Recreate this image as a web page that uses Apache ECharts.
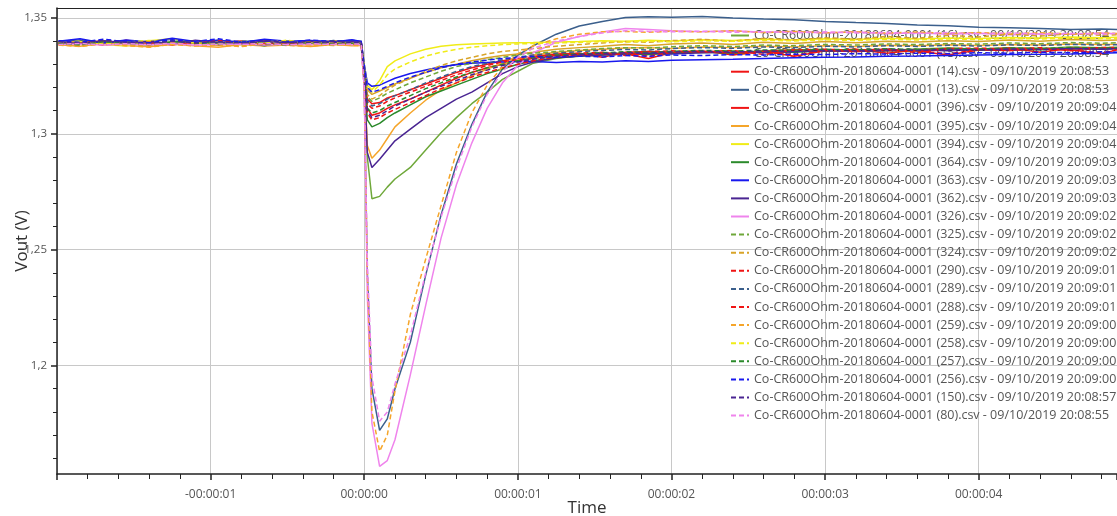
<!DOCTYPE html>
<html><head><meta charset="utf-8">
<script src="https://cdn.jsdelivr.net/npm/echarts@6/dist/echarts.min.js"></script>
<style>html,body{margin:0;padding:0;background:#fff}#c{width:1117px;height:516px}</style>
</head><body><div id="c"></div>
<script>
// time (s) relative to trigger
const times = [-1.99,-1.85,-1.7,-1.55,-1.4,-1.25,-1.1,-0.95,-0.8,-0.65,-0.5,-0.35,-0.2,-0.08,-0.02,
  0.0,0.02,0.05,0.1,0.15,0.2,0.3,0.4,0.5,0.6,0.7,0.8,0.9,1.0,1.1,
  1.25,1.4,1.55,1.7,1.85,2.0,2.2,2.4,2.6,2.8,3.0,3.2,3.4,3.6,3.8,4.0,4.2,4.4,4.6,4.8,4.91];

const v16 = [1.3395,1.3388,1.3401,1.3392,1.3385,1.3398,1.3390,1.3404,1.3387,1.3396,1.3391,1.3399,1.3386,1.3394,1.3390,
  1.330,1.290,1.272,1.273,1.277,1.2805,1.2855,1.293,1.3005,1.307,1.313,1.318,1.3235,1.327,1.3305,
  1.3325,1.3338,1.3345,1.3350,1.3348,1.3352,1.3355,1.3350,1.3358,1.3362,1.3357,1.3364,1.3360,1.3366,1.3370,1.3365,1.3372,1.3368,1.3375,1.3371,1.3374];
const v15 = [1.3388,1.3396,1.3383,1.3391,1.3399,1.3386,1.3393,1.3381,1.3395,1.3389,1.3397,1.3384,1.3392,1.3387,1.3385,
  1.328,1.319,1.317,1.3185,1.320,1.3215,1.324,1.3265,1.3285,1.330,1.3315,1.3328,1.3338,1.3345,1.3352,
  1.3365,1.3372,1.3378,1.3385,1.3380,1.3388,1.3392,1.3386,1.3395,1.3390,1.3398,1.3393,1.3400,1.3396,1.3402,1.3398,1.3405,1.3400,1.3407,1.3403,1.3405];
const v14 = [1.3392,1.3399,1.3387,1.3404,1.3390,1.3385,1.3397,1.3392,1.3401,1.3388,1.3395,1.3390,1.3402,1.3389,1.3393,
  1.327,1.315,1.313,1.3135,1.3155,1.3165,1.319,1.3215,1.324,1.3265,1.3285,1.330,1.3315,1.3325,1.3335,
  1.3345,1.3348,1.3330,1.3352,1.3355,1.3350,1.3358,1.3340,1.3356,1.3362,1.3358,1.3365,1.3348,1.3362,1.3368,1.3364,1.3370,1.3352,1.3369,1.3372,1.3370];
const v13 = [1.3398,1.3405,1.3393,1.3400,1.3396,1.3408,1.3395,1.3402,1.3397,1.3404,1.3394,1.3401,1.3398,1.3403,1.3400,
  1.320,1.240,1.190,1.172,1.177,1.190,1.210,1.239,1.265,1.287,1.304,1.318,1.328,1.334,1.338,
  1.343,1.3465,1.3485,1.3502,1.3505,1.3503,1.3506,1.350,1.3495,1.3492,1.3485,1.348,1.3476,1.347,1.3466,1.346,1.3458,1.3455,1.345,1.3452,1.345];
const v396 = [1.3386,1.3394,1.3401,1.3389,1.3396,1.3383,1.3398,1.3391,1.3387,1.3399,1.3392,1.3386,1.3395,1.3390,1.3388,
  1.326,1.311,1.308,1.309,1.311,1.3125,1.315,1.318,1.321,1.324,1.3265,1.3285,1.330,1.3315,1.3325,
  1.3338,1.3342,1.3348,1.3345,1.3325,1.3350,1.3354,1.3348,1.3356,1.3335,1.3358,1.3355,1.3360,1.3357,1.3340,1.3362,1.3360,1.3366,1.3363,1.3345,1.3365];
const v395 = [1.3384,1.3378,1.3390,1.3381,1.3376,1.3387,1.3380,1.3374,1.3386,1.3379,1.3383,1.3377,1.3385,1.3380,1.3382,
  1.325,1.295,1.2895,1.293,1.298,1.303,1.309,1.3145,1.319,1.322,1.325,1.328,1.3305,1.332,1.334,
  1.3352,1.3360,1.3365,1.3370,1.3372,1.3368,1.3375,1.3372,1.3378,1.3375,1.3380,1.3377,1.3382,1.3380,1.3384,1.3381,1.3386,1.3383,1.3388,1.3385,1.3387];
const v394 = [1.3390,1.3398,1.3385,1.3379,1.3402,1.3410,1.3393,1.3400,1.3388,1.3396,1.3402,1.3391,1.3399,1.3394,1.3392,
  1.330,1.321,1.319,1.323,1.329,1.3315,1.3345,1.3365,1.3378,1.3384,1.3388,1.3390,1.3392,1.3393,1.3394,
  1.3396,1.3398,1.3402,1.3399,1.3404,1.3401,1.3406,1.3403,1.3408,1.3405,1.3410,1.3407,1.3412,1.3409,1.3414,1.3411,1.3416,1.3413,1.3418,1.3415,1.3417];
const v364 = [1.3393,1.3386,1.3399,1.3390,1.3383,1.3396,1.3401,1.3388,1.3394,1.3380,1.3397,1.3389,1.3395,1.3391,1.3389,
  1.325,1.306,1.303,1.3045,1.307,1.309,1.3125,1.316,1.3185,1.321,1.3235,1.326,1.328,1.330,1.3315,
  1.3328,1.3335,1.3340,1.3345,1.3342,1.3348,1.3352,1.3349,1.3355,1.3352,1.3358,1.3356,1.3361,1.3358,1.3364,1.3361,1.3366,1.3363,1.3368,1.3366,1.3368];
const v363 = [1.3400,1.3410,1.3392,1.3405,1.3396,1.3412,1.3398,1.3404,1.3394,1.3408,1.3399,1.3403,1.3396,1.3406,1.3398,
  1.330,1.322,1.3205,1.321,1.3225,1.324,1.326,1.3275,1.329,1.3298,1.3305,1.3308,1.3310,1.3312,1.3312,
  1.3308,1.3312,1.3310,1.3315,1.3312,1.3318,1.3320,1.3322,1.3325,1.3328,1.3330,1.3332,1.3335,1.3336,1.3338,1.3340,1.3342,1.3343,1.3345,1.3348,1.3350];
const v362 = [1.3396,1.3390,1.3402,1.3393,1.3399,1.3387,1.3404,1.3394,1.3390,1.3398,1.3392,1.3400,1.3395,1.3398,1.3396,
  1.325,1.292,1.2855,1.289,1.293,1.297,1.302,1.307,1.311,1.315,1.318,1.322,1.326,1.329,1.331,
  1.3328,1.3336,1.3340,1.3345,1.3348,1.3345,1.3350,1.3353,1.3350,1.3355,1.3358,1.3355,1.3360,1.3362,1.3359,1.3364,1.3362,1.3366,1.3368,1.3365,1.3368];
const v326 = [1.3385,1.3388,1.3383,1.3387,1.3384,1.3389,1.3382,1.3386,1.3388,1.3383,1.3387,1.3385,1.3389,1.3384,1.3386,
  1.320,1.230,1.175,1.1565,1.159,1.168,1.196,1.226,1.255,1.278,1.296,1.311,1.322,1.3295,1.335,
  1.3395,1.342,1.344,1.3455,1.345,1.3445,1.344,1.3445,1.3438,1.3442,1.3435,1.344,1.3432,1.3436,1.343,1.3434,1.3428,1.3432,1.343,1.3435,1.3432];
const v325 = [1.3391,1.3384,1.3396,1.3389,1.3402,1.3387,1.3393,1.3398,1.3385,1.3392,1.3388,1.3397,1.3390,1.3386,1.3391,
  1.328,1.316,1.314,1.3155,1.3175,1.319,1.322,1.3245,1.327,1.329,1.3305,1.332,1.333,1.334,1.3348,
  1.3355,1.3362,1.3368,1.3372,1.3370,1.3376,1.3380,1.3377,1.3383,1.3380,1.3386,1.3383,1.3388,1.3385,1.3390,1.3387,1.3392,1.3389,1.3394,1.3391,1.3393];
const v324 = [1.3387,1.3380,1.3392,1.3385,1.3379,1.3394,1.3383,1.3389,1.3378,1.3391,1.3384,1.3388,1.3381,1.3390,1.3386,
  1.327,1.317,1.315,1.3165,1.319,1.321,1.324,1.327,1.3295,1.3315,1.333,1.3345,1.3355,1.3362,1.3368,
  1.3378,1.3385,1.3392,1.3398,1.3395,1.3402,1.3408,1.3400,1.3412,1.3405,1.3415,1.3408,1.3420,1.3412,1.3425,1.3418,1.3430,1.3422,1.3432,1.3425,1.3428];
const v290 = [1.3394,1.3388,1.3400,1.3392,1.3386,1.3397,1.3389,1.3403,1.3391,1.3385,1.3398,1.3393,1.3387,1.3396,1.3392,
  1.327,1.313,1.311,1.312,1.314,1.3155,1.318,1.3205,1.323,1.3255,1.3275,1.3295,1.331,1.332,1.333,
  1.3342,1.3348,1.3352,1.3338,1.3355,1.3358,1.3354,1.3360,1.3342,1.3362,1.3365,1.3360,1.3366,1.3350,1.3368,1.3370,1.3366,1.3372,1.3358,1.3373,1.3372];
const v289 = [1.3399,1.3393,1.3404,1.3396,1.3390,1.3402,1.3395,1.3388,1.3401,1.3394,1.3399,1.3391,1.3403,1.3397,1.3395,
  1.327,1.314,1.312,1.313,1.315,1.3165,1.319,1.322,1.3245,1.327,1.329,1.3305,1.332,1.333,1.334,
  1.3348,1.3355,1.3360,1.3364,1.3362,1.3368,1.3372,1.3369,1.3375,1.3372,1.3378,1.3375,1.3380,1.3377,1.3382,1.3379,1.3384,1.3381,1.3386,1.3383,1.3385];
const v288 = [1.3389,1.3396,1.3384,1.3393,1.3399,1.3387,1.3392,1.3384,1.3397,1.3390,1.3386,1.3395,1.3391,1.3388,1.3390,
  1.325,1.309,1.306,1.307,1.309,1.3105,1.3135,1.3165,1.3195,1.322,1.3245,1.3265,1.3285,1.330,1.3315,
  1.3332,1.3340,1.3345,1.3350,1.3335,1.3352,1.3355,1.3350,1.3357,1.3340,1.3360,1.3356,1.3362,1.3359,1.3345,1.3363,1.3360,1.3366,1.3362,1.3348,1.3366];
const v259 = [1.3383,1.3377,1.3388,1.3380,1.3374,1.3386,1.3379,1.3384,1.3376,1.3389,1.3381,1.3378,1.3387,1.3382,1.3380,
  1.320,1.240,1.180,1.163,1.170,1.189,1.222,1.246,1.269,1.292,1.309,1.321,1.329,1.3345,1.338,
  1.341,1.343,1.344,1.3442,1.3438,1.3443,1.344,1.3445,1.3437,1.3442,1.3436,1.344,1.3435,1.3439,1.3433,1.3437,1.3432,1.3436,1.3431,1.3435,1.3433];
const v258 = [1.3393,1.3400,1.3387,1.3396,1.3403,1.3390,1.3398,1.3385,1.3399,1.3392,1.3404,1.3389,1.3397,1.3393,1.3394,
  1.329,1.320,1.318,1.321,1.3255,1.328,1.331,1.3335,1.3352,1.3365,1.3374,1.3380,1.3385,1.3388,1.3390,
  1.3392,1.3395,1.3398,1.3396,1.3400,1.3397,1.3402,1.3399,1.3404,1.3401,1.3406,1.3403,1.3408,1.3405,1.3410,1.3407,1.3412,1.3409,1.3413,1.3410,1.3412];
const v257 = [1.3390,1.3384,1.3397,1.3391,1.3386,1.3399,1.3392,1.3385,1.3396,1.3390,1.3383,1.3394,1.3388,1.3392,1.3389,
  1.326,1.311,1.309,1.310,1.312,1.3135,1.3165,1.3195,1.322,1.3245,1.3265,1.3285,1.330,1.3315,1.3328,
  1.3340,1.3345,1.3350,1.3354,1.3351,1.3356,1.3360,1.3357,1.3362,1.3360,1.3365,1.3362,1.3367,1.3364,1.3369,1.3366,1.3371,1.3368,1.3373,1.3370,1.3372];
const v256 = [1.3402,1.3395,1.3408,1.3398,1.3393,1.3406,1.3399,1.3410,1.3396,1.3402,1.3394,1.3405,1.3398,1.3403,1.3400,
  1.329,1.320,1.318,1.319,1.3205,1.322,1.3245,1.3265,1.3285,1.330,1.331,1.3318,1.3325,1.333,1.3334,
  1.3330,1.3335,1.3332,1.3338,1.3335,1.3340,1.3338,1.3342,1.3340,1.3344,1.3342,1.3346,1.3344,1.3348,1.3346,1.3350,1.3348,1.3352,1.3350,1.3354,1.3352];
const v150 = [1.3397,1.3391,1.3403,1.3395,1.3389,1.3400,1.3393,1.3398,1.3390,1.3402,1.3395,1.3391,1.3399,1.3394,1.3396,
  1.326,1.310,1.307,1.308,1.310,1.312,1.315,1.318,1.3205,1.323,1.3255,1.3275,1.3295,1.331,1.3322,
  1.3335,1.3342,1.3347,1.3350,1.3348,1.3353,1.3356,1.3353,1.3358,1.3355,1.3360,1.3358,1.3362,1.3360,1.3364,1.3362,1.3366,1.3364,1.3368,1.3366,1.3368];
const v80 = [1.3386,1.3390,1.3384,1.3389,1.3385,1.3391,1.3383,1.3388,1.3386,1.3390,1.3384,1.3389,1.3385,1.3388,1.3387,
  1.320,1.245,1.195,1.176,1.180,1.192,1.213,1.240,1.264,1.285,1.303,1.317,1.327,1.333,1.337,
  1.340,1.342,1.3435,1.3445,1.3442,1.344,1.3443,1.3438,1.3441,1.3436,1.344,1.3435,1.3438,1.3433,1.3437,1.3432,1.3436,1.3431,1.3434,1.343,1.3433];

const fileLabels = ['(16)','(15)','(14)','(13)','(396)','(395)','(394)','(364)','(363)','(362)','(326)',
  '(325)','(324)','(290)','(289)','(288)','(259)','(258)','(257)','(256)','(150)','(80)'];
const stamps = ['20:08:54','20:08:54','20:08:53','20:08:53','20:09:04','20:09:04','20:09:04','20:09:03','20:09:03','20:09:03','20:09:02',
  '20:09:02','20:09:02','20:09:01','20:09:01','20:09:01','20:09:00','20:09:00','20:09:00','20:09:00','20:08:57','20:08:55'];
const values = [v16,v15,v14,v13,v396,v395,v394,v364,v363,v362,v326,v325,v324,v290,v289,v288,v259,v258,v257,v256,v150,v80];
const yMajor = [1.2,1.25,1.3,1.35];
const yMinor = [1.16,1.17,1.18,1.19,1.21,1.22,1.23,1.24,1.26,1.27,1.28,1.29,1.31,1.32,1.33,1.34];

const palette = ['#6fa83a','#d8a428','#f01515','#3b5f8c','#f01515','#f5a52a','#f0ec18','#2b8a2b','#1818ee','#4a2592','#ef84ec'];

values.forEach((a,i)=>{ if(a.length!==times.length) console.error('length mismatch', fileLabels[i], a.length); });

const FONT = '"Open Sans", "Noto Sans", sans-serif';
const series = values.map((vals, i) => ({
  name: 'Co-CR600Ohm-20180604-0001 ' + fileLabels[i] + '.csv - 09/10/2019 ' + stamps[i],
  type: 'line',
  symbol: 'none',
  showSymbol: false,
  z: 3,
  xAxisIndex: 0, yAxisIndex: 0,
  data: times.map((t, k) => [t, vals[k]]),
  lineStyle: { color: palette[i % 11], width: 1.5, type: i >= 11 ? [5, 3] : 'solid' },
  itemStyle: { color: palette[i % 11] },
  emphasis: { disabled: true }
}));

const fmtT = v => {
  if (v < -1.5 || v > 4.5) return '';
  const s = Math.abs(Math.round(v));
  return (v < 0 ? '-' : '') + '00:00:0' + s;
};

const chart = echarts.init(document.getElementById('c'), null, { renderer: 'canvas' });
chart.setOption({
  animation: false,
  backgroundColor: '#fff',
  grid: { left: 57, right: 0, top: 8, bottom: 42, containLabel: false, outerBoundsMode: 'none' },
  legend: {
    orient: 'vertical', left: 725, top: 24, z: 1,
    itemWidth: 18, itemHeight: 12, itemGap: 5.1,
    itemStyle: { opacity: 0 },
    textStyle: { fontSize: 12.5, color: '#555', fontFamily: FONT },
    selectedMode: false
  },
  xAxis: [{
    type: 'value', min: -2, max: 4.9, interval: 1, position: 'bottom',
    name: 'Time', nameLocation: 'middle', nameGap: 26, nameMoveOverlap: false,
    nameTextStyle: { fontSize: 17, color: '#333', fontFamily: FONT },
    axisLine: { show: true, onZero: false, lineStyle: { color: '#222', width: 1.5 } },
    axisTick: { show: true, length: 6, lineStyle: { color: '#222', width: 1.5 } },
    minorTick: { show: true, splitNumber: 5, length: 5, lineStyle: { color: '#222', width: 1 } },
    axisLabel: { formatter: fmtT, fontSize: 12, color: '#555', margin: 15, fontFamily: FONT },
    splitLine: { show: true, lineStyle: { color: '#c8c8c8', width: 1 } }
  }, {
    type: 'value', min: -2, max: 4.9, position: 'top',
    axisLine: { show: true, onZero: false, lineStyle: { color: '#222', width: 1.2 } },
    axisTick: { show: false }, axisLabel: { show: false }, splitLine: { show: false }
  }],
  yAxis: [{
    type: 'value', min: 1.1532, max: 1.3543, position: 'left',
    name: 'Vout (V)', nameLocation: 'middle', nameGap: 26, nameMoveOverlap: false,
    nameTextStyle: { fontSize: 17, color: '#333', fontFamily: FONT },
    axisLine: { show: true, onZero: false, lineStyle: { color: '#222', width: 1.5 } },
    axisTick: { show: true, customValues: yMajor, length: 6, lineStyle: { color: '#222', width: 1.5 } },
    axisLabel: { customValues: yMajor, formatter: v => String(+v.toFixed(2)).replace('.', ','), fontSize: 11.5, color: '#555', margin: 10, fontFamily: FONT },
    splitLine: { show: true, lineStyle: { color: '#c8c8c8', width: 1 } }
  }, {
    type: 'value', min: 1.1532, max: 1.3543, position: 'left',
    axisLine: { show: false, onZero: false },
    axisTick: { show: true, customValues: yMinor, length: 4, lineStyle: { color: '#222', width: 1 } },
    axisLabel: { show: false },
    splitLine: { show: false }
  }],
  series: series
});
</script>
</body></html>
